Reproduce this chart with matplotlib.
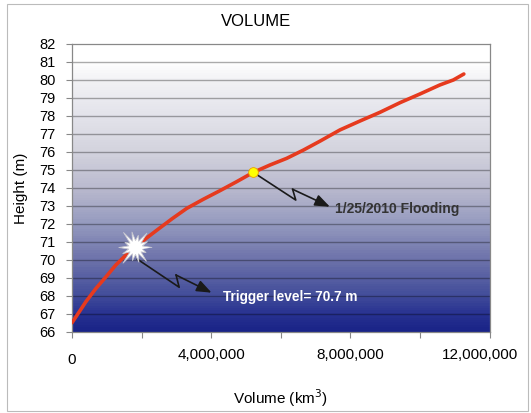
import numpy as np
import matplotlib
matplotlib.use("Agg")
import matplotlib.pyplot as plt
import matplotlib.transforms as mtransforms
from matplotlib.colors import LinearSegmentedColormap
from matplotlib.patches import Rectangle

plt.rcParams['font.family'] = ['Liberation Sans', 'DejaVu Sans']

# storage curve: volume (km3) vs water height (m)
volume = [0, 0.21e6, 0.40e6, 0.69e6, 0.98e6, 1.26e6, 1.55e6, 1.82e6, 2.13e6,
          2.51e6, 2.89e6, 3.30e6, 3.77e6, 4.25e6, 4.73e6, 5.21e6, 5.69e6,
          6.17e6, 6.65e6, 7.13e6, 7.70e6, 8.28e6, 8.85e6, 9.43e6, 10.00e6,
          10.57e6, 10.96e6, 11.26e6]
height = [66.50, 67.11, 67.67, 68.41, 69.06, 69.71, 70.26, 70.70, 71.19,
          71.75, 72.30, 72.86, 73.36, 73.84, 74.34, 74.86, 75.27,
          75.64, 76.10, 76.60, 77.22, 77.72, 78.20, 78.74, 79.22,
          79.72, 80.00, 80.33]

trigger_vol, trigger_h = 1.82e6, 70.7
flood_vol, flood_h = 5.21e6, 74.86
flood_label = "1/25/2010 Flooding"
trigger_label = "Trigger level= %.1f m" % trigger_h

x_ticks = [0, 2e6, 4e6, 6e6, 8e6, 10e6, 12e6]
x_ticklabels = ["0", "", "4,000,000", "", "8,000,000", "", "12,000,000"]
y_ticks = list(range(66, 83))

fig = plt.figure(figsize=(5.31, 4.13), dpi=100)
ax = fig.add_axes([0.1356, 0.1969, 0.7864, 0.6966])

# background gradient, white at the top down to dark blue
stops = [(0.0, (0.10, 0.14, 0.53)), (0.06, (0.16, 0.20, 0.57)),
         (0.13, (0.27, 0.31, 0.61)), (0.25, (0.43, 0.45, 0.67)),
         (0.38, (0.59, 0.61, 0.75)), (0.50, (0.73, 0.73, 0.81)),
         (0.63, (0.83, 0.83, 0.87)), (0.75, (0.89, 0.89, 0.92)),
         (0.88, (0.95, 0.95, 0.96)), (0.94, (1.0, 1.0, 1.0)), (1.0, (1.0, 1.0, 1.0))]
cmap = LinearSegmentedColormap.from_list("bg", stops)
grad = np.linspace(0, 1, 120).reshape(-1, 1)
ax.imshow(grad, cmap=cmap, origin="lower", aspect="auto",
          extent=[0, 12e6, 66, 82], zorder=0, interpolation="nearest")

for y in y_ticks[1:-1]:
    ax.axhline(y, color="k", alpha=0.33, lw=1.0, zorder=1)

ax.plot(volume, height, color="#e63a1e", lw=2.6, solid_capstyle="round",
        solid_joinstyle="round", zorder=3)

arrow_style = dict(arrowstyle="-|>,head_length=0.9,head_width=0.35",
                   color="#1a1a1a", lw=1.2, shrinkA=0, shrinkB=0)

# flooding event marker and its zigzag arrow
ax.plot(flood_vol, flood_h, "o", ms=7, mfc="#ffff00", mec="#e8a000", mew=0.6, zorder=5)
fx = [flood_vol, flood_vol + 1.22e6, flood_vol + 1.13e6]
fy = [flood_h, flood_h - 1.54, flood_h - 0.94]
ax.plot(fx, fy, color="#1a1a1a", lw=1.2, zorder=4)
ax.annotate("", xy=(flood_vol + 2.20e6, flood_h - 1.91), xytext=(fx[-1], fy[-1]),
            arrowprops=arrow_style, zorder=4)
ax.text(flood_vol + 2.35e6, flood_h - 2.04, flood_label, fontsize=10, fontweight="bold",
        color="#333333", va="center", ha="left", zorder=5)

# trigger level burst and its zigzag arrow
ang = np.linspace(0, 2 * np.pi, 29)[:-1]
rad = np.where(np.arange(28) % 2 == 0, 1.0, 0.42)
rad = rad * np.array([1.0, 1, 0.8, 1, 1.1, 1, 0.75, 1, 0.95, 1, 1.15, 1, 0.7, 1,
                      1.0, 1, 0.85, 1, 1.2, 1, 0.8, 1, 0.9, 1, 1.05, 1, 0.7, 1])
burst = np.column_stack([rad * np.cos(ang), rad * np.sin(ang)])
ax.plot(trigger_vol, trigger_h, marker=burst, ms=24, mfc="white", mec="#c8c8d0",
        mew=0.6, zorder=5)
tx = [trigger_vol + 0.06e6, trigger_vol + 1.26e6, trigger_vol + 1.17e6]
ty = [trigger_h - 0.67, trigger_h - 2.23, trigger_h - 1.55]
ax.plot(tx, ty, color="#1a1a1a", lw=1.2, zorder=4)
ax.annotate("", xy=(trigger_vol + 2.19e6, trigger_h - 2.53), xytext=(tx[-1], ty[-1]),
            arrowprops=arrow_style, zorder=4)
ax.text(trigger_vol + 2.53e6, trigger_h - 2.75, trigger_label, fontsize=9.8,
        fontweight="bold", color="white", va="center", ha="left", zorder=5)

ax.set_xlim(0, 12e6)
ax.set_ylim(66, 82)
ax.set_xticks(x_ticks)
ax.set_xticklabels(x_ticklabels)
ax.set_yticks(y_ticks)
ax.tick_params(axis="both", direction="out", length=4, color="#888888")
ax.tick_params(axis="x", pad=8, labelsize=11)
ax.tick_params(axis="y", pad=8, labelsize=10.5)
for s in ax.spines.values():
    s.set_color("#888888")
    s.set_linewidth(0.9)

# nudge the first label down a little and pull the last one inside the frame
xlabels = ax.get_xticklabels()
xlabels[0].set_transform(xlabels[0].get_transform() +
                         mtransforms.ScaledTranslation(0, -3 / 72, fig.dpi_scale_trans))
xlabels[-1].set_transform(xlabels[-1].get_transform() +
                          mtransforms.ScaledTranslation(-7 / 72, 0, fig.dpi_scale_trans))

ax.set_xlabel("Volume (km$^3$)", fontsize=11, labelpad=15)
ax.set_ylabel("Height (m)", fontsize=11, labelpad=8)
fig.text(256 / 531, 1 - 21 / 413, "VOLUME", fontsize=12, ha="center", va="center")

fig.patches.append(Rectangle((7 / 531, 1 - 411 / 413), 521 / 531, 407 / 413,
                             transform=fig.transFigure, fill=False,
                             edgecolor="#bbbbbb", lw=0.8))

fig.savefig("out.png", dpi=100)
